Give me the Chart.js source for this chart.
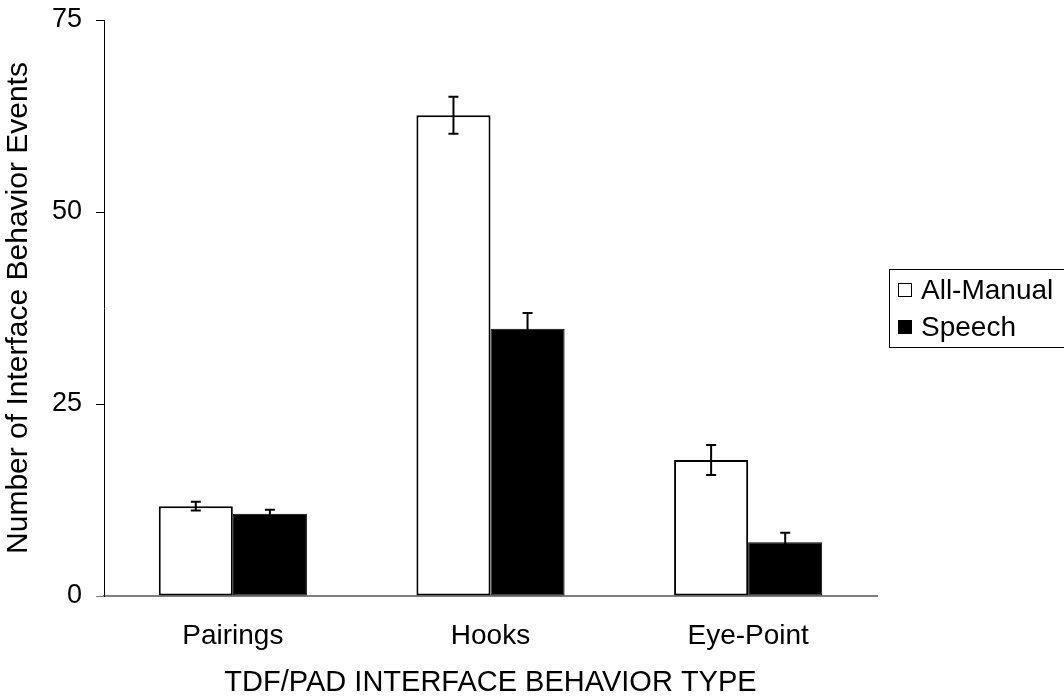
<!DOCTYPE html>
<html>
<head>
<meta charset="utf-8">
<title>Interface Behavior Events</title>
<script src="https://cdn.jsdelivr.net/npm/chart.js@4.4.1/dist/chart.umd.min.js"></script>
<style>
  html, body { margin: 0; padding: 0; background: #ffffff; }
  #wrap { width: 1064px; height: 700px; }
</style>
</head>
<body>
<div id="wrap"><canvas id="chart" width="1064" height="700"></canvas></div>
<script>
// Behavior categories and mean event counts per condition
const categories = ['Pairings', 'Hooks', 'Eye-Point'];
const allManual = [11.7, 62.6, 17.7];
const speech = [10.7, 34.8, 7.0];
// Standard error for each mean
const allManualErr = [0.56, 2.4, 1.95];
const speechErr = [0.52, 2.05, 1.25];
// Y axis tick values
const yTicks = [0, 25, 50, 75];

const FONT = 'Liberation Sans, Arial, Helvetica, sans-serif';

// Error bars drawn on top of each bar, centred on the bar
const errorBars = {
  id: 'errorBars',
  afterDatasetsDraw(chart) {
    const ctx = chart.ctx;
    const yScale = chart.scales.y;
    ctx.save();
    ctx.strokeStyle = '#000000';
    ctx.lineWidth = 2;
    chart.data.datasets.forEach((ds, di) => {
      const meta = chart.getDatasetMeta(di);
      meta.data.forEach((bar, i) => {
        const v = ds.data[i];
        const e = ds.errors[i];
        const x = bar.x;
        const yTop = yScale.getPixelForValue(v + e);
        const yBot = yScale.getPixelForValue(v - e);
        const cap = 5;
        ctx.beginPath();
        ctx.moveTo(x, yTop); ctx.lineTo(x, yBot);
        ctx.moveTo(x - cap, yTop); ctx.lineTo(x + cap, yTop);
        ctx.moveTo(x - cap, yBot); ctx.lineTo(x + cap, yBot);
        ctx.stroke();
      });
    });
    ctx.restore();
  }
};

// Boxed legend to the right of the plot
const boxedLegend = {
  id: 'boxedLegend',
  afterDraw(chart) {
    const ctx = chart.ctx;
    const left = 889, top = 269, width = 200, height = 78;
    ctx.save();
    ctx.strokeStyle = '#000000';
    ctx.lineWidth = 1;
    ctx.strokeRect(left + 0.5, top + 0.5, width, height);
    ctx.font = '28px ' + FONT;
    ctx.textBaseline = 'middle';
    ctx.textAlign = 'left';
    const rows = [290, 327];
    chart.data.datasets.forEach((ds, i) => {
      const cy = rows[i];
      ctx.fillStyle = ds.backgroundColor;
      ctx.fillRect(898, cy - 7, 14, 14);
      ctx.strokeStyle = '#000000';
      ctx.lineWidth = 1;
      ctx.strokeRect(898.5, cy - 6.5, 13, 13);
      ctx.fillStyle = '#000000';
      ctx.fillText(ds.label, 921, cy + 1);
    });
    ctx.restore();
  }
};

new Chart(document.getElementById('chart'), {
  type: 'bar',
  data: {
    labels: categories,
    datasets: [
      {
        label: 'All-Manual',
        data: allManual,
        errors: allManualErr,
        backgroundColor: '#ffffff',
        borderColor: '#000000',
        borderWidth: 2,
        borderSkipped: false,
        categoryPercentage: 0.575,
        barPercentage: 1.0
      },
      {
        label: 'Speech',
        data: speech,
        errors: speechErr,
        backgroundColor: '#000000',
        borderColor: '#000000',
        borderWidth: 1,
        borderSkipped: false,
        categoryPercentage: 0.575,
        barPercentage: 1.0
      }
    ]
  },
  options: {
    responsive: false,
    animation: false,
    devicePixelRatio: 1,
    layout: { padding: { top: 20, right: 187, bottom: 0, left: 0 } },
    plugins: {
      legend: { display: false },
      tooltip: { enabled: false }
    },
    scales: {
      x: {
        grid: { display: false, drawTicks: false },
        border: { display: true, color: '#808080', width: 2 },
        ticks: {
          color: '#000000',
          padding: 23,
          font: { family: FONT, size: 28 }
        },
        title: {
          display: true,
          text: 'TDF/PAD INTERFACE BEHAVIOR TYPE',
          color: '#000000',
          font: { family: FONT, size: 29 },
          padding: { top: 0, bottom: 0 }
        },
        afterFit(scale) {
          scale.height = 104;
          scale.paddingLeft = 0;
          scale.paddingRight = 0;
        }
      },
      y: {
        min: 0,
        max: 75,
        afterBuildTicks(scale) { scale.ticks = yTicks.map(v => ({ value: v })); },
        grid: {
          drawOnChartArea: false,
          drawTicks: true,
          tickLength: 8,
          color: ctx => (ctx.tick && ctx.tick.value === 0) ? '#808080' : '#000000'
        },
        border: { display: true, color: '#000000', width: 1 },
        ticks: {
          color: '#000000',
          padding: 14,
          font: { family: FONT, size: 27 }
        },
        title: {
          display: true,
          text: 'Number of Interface Behavior Events',
          color: '#000000',
          font: { family: FONT, size: 30 },
          padding: { top: 1, bottom: 0 }
        },
        afterFit(scale) {
          scale.width = 104;
          scale.paddingTop = 0;
          scale.paddingBottom = 0;
        }
      }
    }
  },
  plugins: [errorBars, boxedLegend]
});
</script>
</body>
</html>
